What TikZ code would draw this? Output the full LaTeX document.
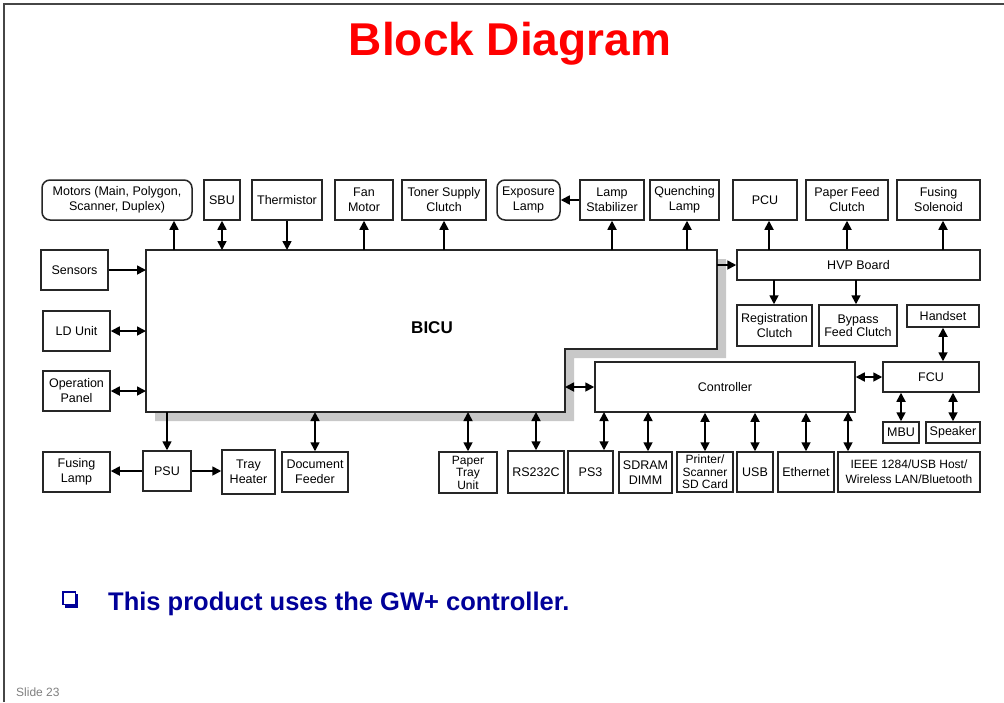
\documentclass[tikz,border=0pt]{standalone}
\usepackage{fontspec}
\setmainfont{Liberation Sans}
\usetikzlibrary{arrows.meta}
\definecolor{shadowgray}{RGB}{200,200,200}
\definecolor{navy}{RGB}{0,0,153}
\definecolor{framegray}{RGB}{70,70,70}
\newcommand\mybox[7][box]{\node[#1, minimum width={(#5)-(#3)}, minimum height={(#6)-(#4)}] (#2) at ({((#3)+(#5))/2},{((#4)+(#6))/2}) {#7};}
\begin{document}
\begin{tikzpicture}[x=1pt,y=-1pt,
  box/.style={draw=black!85, line width=1.5pt, fill=white, inner sep=0pt, align=center, font=\fontsize{12.5}{15}\selectfont},
  rbox/.style={box, rounded corners=8pt},
  tight/.style={box, font=\fontsize{12}{12.5}\selectfont},
  small/.style={box, font=\fontsize{12}{15}\selectfont},
  tip/.tip={Triangle[length=9pt,width=9pt]},
  arr/.style={line width=1.7pt, -tip},
  darr/.style={line width=1.7pt, tip-tip},
]
\useasboundingbox (0,0) rectangle (1004,702);
\fill[white] (0,0) rectangle (1004,702);
% slide frame
\draw[framegray, line width=1.5pt] (4,702) -- (4,4) -- (1004,4);
% title
\node[anchor=base, text=red, font=\fontsize{46}{46}\selectfont\bfseries, inner sep=0pt] (title) at (510,55) {Block Diagram};

% BICU with shadow
\fill[shadowgray] (155,259) -- (726,259) -- (726,358) -- (574,358) -- (574,421) -- (155,421) -- cycle;
\draw[fill=white, draw=black!85, line width=1.5pt] (146,250) -- (717,250) -- (717,349) -- (565,349) -- (565,412) -- (146,412) -- cycle;
\node[font=\fontsize{17}{17}\selectfont\bfseries] (bicu) at (432,328) {BICU};
\coordinate (btop) at (0,250);
\coordinate (bbot) at (0,412);
\coordinate (bleft) at (146,0);
\coordinate (bright) at (717,0);
\coordinate (bstep) at (565,0);

% top row
\mybox[rbox]{motors}{42}{180}{192}{220}{Motors (Main, Polygon,\\Scanner, Duplex)}
\mybox{sbu}{204}{180}{240}{220}{SBU}
\mybox{therm}{252}{180}{322}{220}{Thermistor}
\mybox{fan}{335}{180}{393}{220}{Fan\\Motor}
\mybox{toner}{402}{180}{486}{220}{Toner Supply\\Clutch}
\mybox[rbox]{expo}{497}{180}{560}{220}{Exposure\\Lamp}
\mybox{stab}{580}{180}{644}{220}{Lamp\\Stabilizer}
\mybox{quench}{650}{180}{719}{220}{Quenching\\Lamp}
\mybox{pcu}{733}{180}{797}{220}{PCU}
\mybox{pfc}{806}{180}{888}{220}{Paper Feed\\Clutch}
\mybox{fsol}{897}{180}{980}{220}{Fusing\\Solenoid}

% right side
\mybox{hvp}{737}{250}{980}{280}{HVP Board}
\mybox{reg}{737}{305}{812}{346}{Registration\\Clutch}
\mybox[box,font=\fontsize{12.5}{13}\selectfont]{bypass}{819}{305}{897}{346}{Bypass\\Feed Clutch}
\mybox{handset}{907}{305}{979}{327}{Handset}
\mybox{fcu}{883}{362}{979}{392}{FCU}
\mybox{mbu}{883}{422}{919}{443}{MBU}
\mybox{speaker}{926}{422}{980}{443}{Speaker}
\mybox{ctrl}{595}{362}{855}{412}{Controller}

% left side
\mybox{sensors}{41}{250}{108}{290}{Sensors}
\mybox{ld}{43}{311}{110}{351}{LD Unit}
\mybox{op}{43}{371}{110}{411}{Operation\\Panel}

% bottom left
\mybox{flamp}{43}{452}{110}{492}{Fusing\\Lamp}
\mybox{psu}{143}{451}{191}{491}{PSU}
\mybox{tray}{222}{450}{275}{494}{Tray\\Heater}
\mybox{docf}{282}{452}{348}{492}{Document\\Feeder}

% bottom right
\mybox[tight]{ptu}{439}{452}{497}{493}{Paper\\Tray\\Unit}
\mybox{rs}{508}{451}{564}{493}{RS232C}
\mybox{ps3}{568}{451}{613}{493}{PS3}
\mybox{sdram}{619}{452}{672}{493}{SDRAM\\DIMM}
\mybox[tight]{prn}{677}{452}{733}{492}{Printer/\\Scanner\\SD Card}
\mybox{usb}{737}{452}{773}{492}{USB}
\mybox{eth}{778}{452}{834}{492}{Ethernet}
\mybox[small]{ieee}{838}{452}{980}{492}{IEEE 1284/USB Host/\\Wireless LAN/Bluetooth}

% connectors: top
\coordinate (cMot) at (174,250);
\draw[arr] (cMot) -- (cMot |- motors.south);
\draw[darr] (sbu.south |- btop) -- (sbu.south);
\draw[arr] (therm.south) -- (therm.south |- btop);
\draw[arr] (fan.south |- btop) -- (fan.south);
\draw[arr] (toner.south |- btop) -- (toner.south);
\draw[arr] (stab.south |- btop) -- (stab.south);
\draw[arr] (stab.west) -- (expo.east);
\coordinate (cQu) at (687,250);
\draw[arr] (cQu) -- (cQu |- quench.south);
% HVP
\draw[arr] (hvp.west -| bright) -- (hvp.west);
\coordinate (cPcu) at (769,250);
\draw[arr] (cPcu) -- (cPcu |- pcu.south);
\draw[arr] (pfc.south |- hvp.north) -- (pfc.south);
\coordinate (cFs) at (943,250);
\draw[arr] (cFs) -- (cFs |- fsol.south);
\coordinate (cReg) at (774,280);
\draw[arr] (cReg) -- (cReg |- reg.north);
\coordinate (cBy) at (856,280);
\draw[arr] (cBy) -- (cBy |- bypass.north);
% FCU
\draw[darr] (handset.south |- fcu.north) -- (handset.south);
\draw[darr] (mbu.north |- fcu.south) -- (mbu.north);
\draw[darr] (speaker.north |- fcu.south) -- (speaker.north);
\draw[darr] (fcu.west -| ctrl.east) -- (fcu.west);
% BICU to controller
\draw[darr] (ctrl.west -| bstep) -- (ctrl.west);
% left
\draw[arr] (sensors.east) -- (sensors.east -| bleft);
\draw[darr] (ld.east) -- (ld.east -| bleft);
\draw[darr] (op.east) -- (op.east -| bleft);
% bottom left
\draw[arr] (psu.north |- bbot) -- (psu.north);
\draw[arr] (psu.west) -- (psu.west -| flamp.east);
\draw[arr] (psu.east) -- (psu.east -| tray.west);
\draw[darr] (docf.north |- bbot) -- (docf.north);
\draw[darr] (ptu.north |- bbot) -- (ptu.north);
\draw[darr] (rs.north |- bbot) -- (rs.north);
% controller bottom
\coordinate (cPs) at (604,412);
\draw[darr] (cPs) -- (cPs |- ps3.north);
\coordinate (cSd) at (648,412);
\draw[darr] (cSd) -- (cSd |- sdram.north);
\draw[darr] (prn.north |- ctrl.south) -- (prn.north);
\draw[darr] (usb.north |- ctrl.south) -- (usb.north);
\draw[darr] (eth.north |- ctrl.south) -- (eth.north);
\coordinate (cIe) at (848,412);
\draw[darr] (cIe) -- (cIe |- ieee.north);

% bullet text
\fill[navy] (65,594) rectangle (78,608);
\draw[navy, fill=white, line width=1.2pt] (63,592) rectangle (75.5,604.5);
\node[anchor=base west, inner sep=0pt, text=navy, font=\fontsize{25.5}{25.5}\selectfont\bfseries] (bullet) at (108,610) {This product uses the GW+ controller.};
% slide number
\node[anchor=base west, inner sep=0pt, text=black!50, font=\fontsize{12}{12}\selectfont] (slideno) at (16,696) {Slide 23};
\end{tikzpicture}
\end{document}
